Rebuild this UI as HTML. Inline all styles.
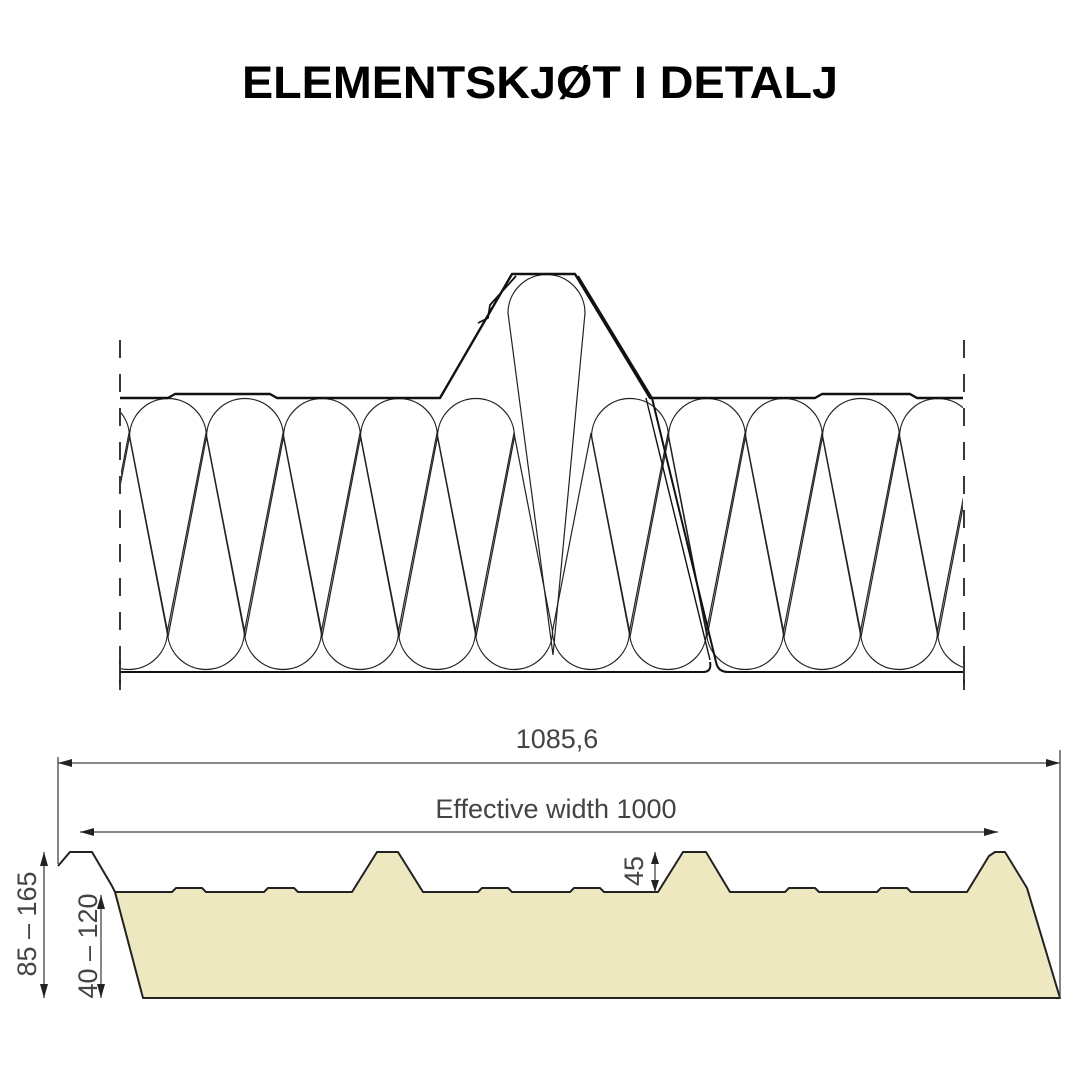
<!DOCTYPE html>
<html><head><meta charset="utf-8"><style>html,body{margin:0;padding:0;background:#fff}svg{display:block}</style></head>
<body>
<svg width="1080" height="1080" viewBox="0 0 1080 1080" xmlns="http://www.w3.org/2000/svg">
<text x="540" y="98" text-anchor="middle" font-family="Liberation Sans, sans-serif" font-weight="bold" font-size="45" textLength="596" lengthAdjust="spacingAndGlyphs" fill="#000">ELEMENTSKJØT I DETALJ</text>
<defs><clipPath id="c"><rect x="121" y="396" width="842" height="278"/></clipPath></defs>
<g clip-path="url(#c)" fill="none" stroke="#222" stroke-width="1.2">
<path d="M52.5,437 A38.5,38.5 0 0 1 129.5,437 L91,637 Z"/>
<path d="M129.5,437 A38.5,38.5 0 0 1 206.5,437 L168,637 Z"/>
<path d="M206.5,437 A38.5,38.5 0 0 1 283.5,437 L245,637 Z"/>
<path d="M283.5,437 A38.5,38.5 0 0 1 360.5,437 L322,637 Z"/>
<path d="M360.5,437 A38.5,38.5 0 0 1 437.5,437 L399,637 Z"/>
<path d="M437.5,437 A38.5,38.5 0 0 1 514.5,437 L476,637 Z"/>
<path d="M591.5,437 A38.5,38.5 0 0 1 668.5,437 L630,637 Z"/>
<path d="M668.5,437 A38.5,38.5 0 0 1 745.5,437 L707,637 Z"/>
<path d="M745.5,437 A38.5,38.5 0 0 1 822.5,437 L784,637 Z"/>
<path d="M822.5,437 A38.5,38.5 0 0 1 899.5,437 L861,637 Z"/>
<path d="M899.5,437 A38.5,38.5 0 0 1 976.5,437 L938,637 Z"/>
<path d="M90.5,631 A38.5,38.5 0 0 0 167.5,631 L129,433 Z"/>
<path d="M167.5,631 A38.5,38.5 0 0 0 244.5,631 L206,433 Z"/>
<path d="M244.5,631 A38.5,38.5 0 0 0 321.5,631 L283,433 Z"/>
<path d="M321.5,631 A38.5,38.5 0 0 0 398.5,631 L360,433 Z"/>
<path d="M398.5,631 A38.5,38.5 0 0 0 475.5,631 L437,433 Z"/>
<path d="M475.5,631 A38.5,38.5 0 0 0 552.5,631 L514,433 Z"/>
<path d="M552.5,631 A38.5,38.5 0 0 0 629.5,631 L591,433 Z"/>
<path d="M629.5,631 A38.5,38.5 0 0 0 706.5,631 L668,433 Z"/>
<path d="M706.5,631 A38.5,38.5 0 0 0 783.5,631 L745,433 Z"/>
<path d="M783.5,631 A38.5,38.5 0 0 0 860.5,631 L822,433 Z"/>
<path d="M860.5,631 A38.5,38.5 0 0 0 937.5,631 L899,433 Z"/>
<path d="M937.5,631 A38.5,38.5 0 0 0 1014.5,631 L976,433 Z"/>
</g>
<path d="M508,313 A38.5,38.5 0 0 1 585,313 L553,655 M508,313 L553,655" fill="none" stroke="#222" stroke-width="1.2"/>
<g fill="none" stroke="#111" stroke-width="2.4" stroke-linejoin="round">
<path d="M120,398 L168,398 L175,394 L270,394 L277,398 L440,398 L512,274 L575,274 L650,398 L815,398 L822,394 L910,394 L917,398 L963,398"/>
<path d="M516,276 L490,305 L488,318 L478,323" stroke-width="1.8"/>
<path d="M578,276 L652,398 L716,662 Q718,672 728,672 L963,672" stroke-width="2"/>
<path d="M646,398 L710,660" stroke-width="1.4"/>
<path d="M120,672 L703,672 Q712,672 710,662" stroke-width="2"/>
</g>
<g stroke="#222" stroke-width="1.8" stroke-dasharray="18,16">
<line x1="120" y1="340" x2="120" y2="690"/><line x1="964" y1="340" x2="964" y2="690"/>
</g>
<line x1="120" y1="662" x2="120" y2="684" stroke="#222" stroke-width="1.8"/>
<line x1="964" y1="662" x2="964" y2="684" stroke="#222" stroke-width="1.8"/>
<path d="M115,892 L172,892 L176,888 L202,888 L206,892 L264,892 L268,888 L294,888 L298,892 L352,892 L377,852 L398,852 L423,892 L478,892 L482,888 L508,888 L512,892 L570,892 L574,888 L600,888 L604,892 L658,892 L683,852 L706,852 L730,892 L785,892 L789,888 L815,888 L819,892 L877,892 L881,888 L907,888 L911,892 L967,892 L989,856 L995,852 L1005,852 L1027,888 L1060,998 L143,998 Z" fill="#ede8c0" stroke="#222" stroke-width="2" stroke-linejoin="round"/>
<path d="M58,866 L70,852 L92,852 L112,886 L115,892" fill="none" stroke="#222" stroke-width="2"/>
<g stroke="#444" stroke-width="1.3" fill="none">
<line x1="58" y1="757" x2="58" y2="864"/>
<line x1="1060" y1="750" x2="1060" y2="998"/>
<line x1="58" y1="763" x2="1060" y2="763"/>
<line x1="80" y1="832" x2="998" y2="832"/>
<line x1="655" y1="852" x2="655" y2="892"/>
<line x1="44" y1="852" x2="44" y2="998"/>
<line x1="101" y1="895" x2="101" y2="998"/>
</g>
<g fill="#222">
<path d="M58,763 L72,759 L72,767Z"/><path d="M1060,763 L1046,759 L1046,767Z"/>
<path d="M80,832 L94,828 L94,836Z"/><path d="M998,832 L984,828 L984,836Z"/>
<path d="M655,852 L651,864 L659,864Z"/><path d="M655,892 L651,880 L659,880Z"/>
<path d="M44,852 L40,866 L48,866Z"/><path d="M44,998 L40,984 L48,984Z"/>
<path d="M101,895 L97,909 L105,909Z"/><path d="M101,998 L97,984 L105,984Z"/>
</g>
<g font-family="Liberation Sans, sans-serif" fill="#444" font-size="27">
<text x="557" y="748" text-anchor="middle">1085,6</text>
<text x="556" y="818" text-anchor="middle">Effective width 1000</text>
<text transform="translate(643,871) rotate(-90)" text-anchor="middle">45</text>
<text transform="translate(36,924) rotate(-90)" text-anchor="middle">85 – 165</text>
<text transform="translate(97,946) rotate(-90)" text-anchor="middle">40 – 120</text>
</g>
</svg>
</body></html>
